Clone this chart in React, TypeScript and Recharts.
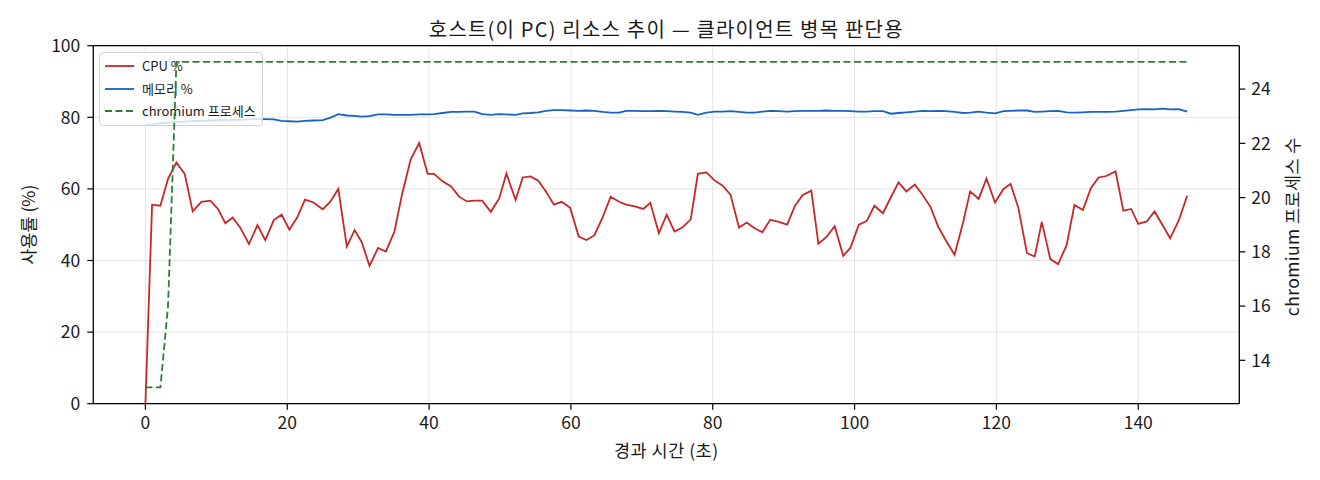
import React from 'react';
import { LineChart, Line, XAxis, YAxis, CartesianGrid, ReferenceLine } from 'recharts';

// elapsed time (s)
const T = [
  0, 0.94, 2.11, 3.19, 4.37, 5.54, 6.67, 7.89, 9.15, 10.23,
  11.27, 12.3, 13.4, 14.6, 15.8, 16.9, 18.1, 19.2, 20.3, 21.4,
  22.5, 23.7, 25.0, 26.1, 27.2, 28.4, 29.5, 30.5, 31.6, 32.8,
  33.9, 35.1, 36.2, 37.4, 38.6, 39.8, 40.7, 41.9, 43.1, 44.2,
  45.3, 46.4, 47.5, 48.7, 49.9, 50.9, 52.2, 53.2, 54.3, 55.4,
  56.5, 57.6, 58.7, 59.9, 61.1, 62.2, 63.3, 64.5, 65.6, 66.8,
  67.8, 69.0, 70.2, 71.2, 72.4, 73.5, 74.6, 75.7, 76.9, 77.9,
  79.1, 80.3, 81.4, 82.5, 83.7, 84.8, 85.9, 87.0, 88.1, 89.3,
  90.5, 91.6, 92.7, 93.9, 94.9, 96.0, 97.2, 98.4, 99.4, 100.6,
  101.7, 102.8, 104.0, 105.1, 106.2, 107.3, 108.5, 109.6, 110.7, 111.8,
  112.9, 114.1, 115.3, 116.3, 117.5, 118.6, 119.8, 121.0, 122.0, 123.1,
  124.3, 125.4, 126.4, 127.6, 128.7, 129.9, 131.0, 132.2, 133.3, 134.4,
  135.5, 136.8, 137.9, 139.0, 140.0, 141.2, 142.3, 143.4, 144.5, 145.7,
  146.9,
];

const CPU = [
  0.0, 55.6, 55.3, 62.8, 67.4, 64.2, 53.7, 56.4, 56.7, 54.4,
  50.4, 52.0, 49.1, 44.6, 49.9, 45.7, 51.3, 52.8, 48.6, 52.0,
  57.0, 56.2, 54.3, 56.5, 60.0, 43.9, 48.5, 45.1, 38.5, 43.5,
  42.5, 48.0, 58.6, 68.2, 72.8, 64.2, 64.2, 62.1, 60.7, 57.9,
  56.5, 56.7, 56.7, 53.6, 57.4, 64.3, 56.9, 63.2, 63.5, 62.3,
  59.2, 55.6, 56.4, 54.7, 46.7, 45.7, 47.0, 52.2, 57.8, 56.4,
  55.6, 55.1, 54.4, 56.1, 47.6, 52.8, 48.1, 49.2, 51.5, 64.2,
  64.6, 62.3, 60.9, 58.4, 49.2, 50.6, 49.0, 47.9, 51.4, 50.8,
  50.0, 55.3, 58.3, 59.5, 44.7, 46.5, 49.6, 41.3, 43.5, 50.0,
  51.0, 55.3, 53.2, 57.6, 61.8, 59.3, 61.2, 58.3, 55.0, 49.4,
  45.5, 41.6, 50.6, 59.3, 57.2, 62.9, 56.2, 60.0, 61.4, 54.7,
  42.1, 41.1, 50.8, 40.4, 39.0, 44.3, 55.5, 54.1, 60.1, 63.2,
  63.6, 64.9, 53.9, 54.4, 50.2, 50.9, 53.7, 50.0, 46.2, 51.1,
  58.1,
];

const MEM = [
  77.8, 78.0, 78.3, 78.5, 78.7, 78.8, 78.9, 79.0, 79.1, 79.2,
  79.2, 79.3, 79.3, 79.4, 79.5, 79.5, 79.4, 79.0, 78.9, 78.8,
  79.0, 79.1, 79.2, 79.9, 80.9, 80.5, 80.4, 80.2, 80.3, 80.8,
  80.8, 80.7, 80.7, 80.7, 80.8, 80.8, 80.9, 81.2, 81.5, 81.5,
  81.6, 81.6, 80.9, 80.7, 80.9, 80.8, 80.7, 81.1, 81.2, 81.4,
  81.8, 82.0, 82.0, 81.9, 81.8, 81.9, 81.8, 81.5, 81.3, 81.3,
  81.8, 81.8, 81.7, 81.7, 81.8, 81.7, 81.6, 81.5, 81.3, 80.7,
  81.3, 81.6, 81.6, 81.7, 81.5, 81.3, 81.3, 81.6, 81.8, 81.7,
  81.6, 81.7, 81.8, 81.8, 81.8, 81.9, 81.8, 81.8, 81.7, 81.6,
  81.6, 81.7, 81.7, 81.0, 81.2, 81.4, 81.6, 81.8, 81.7, 81.8,
  81.7, 81.5, 81.2, 81.3, 81.6, 81.3, 81.1, 81.7, 81.8, 81.9,
  81.9, 81.5, 81.6, 81.7, 81.8, 81.4, 81.3, 81.4, 81.5, 81.5,
  81.5, 81.6, 81.8, 82.0, 82.2, 82.3, 82.2, 82.4, 82.2, 82.3,
  81.6,
];

const PROC = [
  13, 13, 13, 16, 25, 25, 25, 25, 25, 25,
  25, 25, 25, 25, 25, 25, 25, 25, 25, 25,
  25, 25, 25, 25, 25, 25, 25, 25, 25, 25,
  25, 25, 25, 25, 25, 25, 25, 25, 25, 25,
  25, 25, 25, 25, 25, 25, 25, 25, 25, 25,
  25, 25, 25, 25, 25, 25, 25, 25, 25, 25,
  25, 25, 25, 25, 25, 25, 25, 25, 25, 25,
  25, 25, 25, 25, 25, 25, 25, 25, 25, 25,
  25, 25, 25, 25, 25, 25, 25, 25, 25, 25,
  25, 25, 25, 25, 25, 25, 25, 25, 25, 25,
  25, 25, 25, 25, 25, 25, 25, 25, 25, 25,
  25, 25, 25, 25, 25, 25, 25, 25, 25, 25,
  25, 25, 25, 25, 25, 25, 25, 25, 25, 25,
  25,
];

const X_TICKS = [0, 20, 40, 60, 80, 100, 120, 140];
const Y_TICKS = [0, 20, 40, 60, 80, 100];
const Y2_TICKS = [14, 16, 18, 20, 22, 24];

const TITLE = '호스트(이 PC) 리소스 추이 — 클라이언트 병목 판단용';
const X_LABEL = '경과 시간 (초)';
const Y_LABEL = '사용률 (%)';
const Y2_LABEL = 'chromium 프로세스 수';
const LEGEND = [
  { name: 'CPU %', color: '#c62828', dash: undefined as string | undefined },
  { name: '메모리 %', color: '#1565c0', dash: undefined as string | undefined },
  { name: 'chromium 프로세스', color: '#2e7d32', dash: '7 3.5' },
];

const rows = T.map((t, i) => ({ t, cpu: CPU[i], mem: MEM[i], proc: PROC[i] }));

const FONT = '"Noto Sans CJK KR", "Noto Sans", sans-serif';
const W = 1304;
const H = 464;
const X_DOMAIN: [number, number] = [-7.35, 154.25];
const TICK_STYLE = { fontSize: 17.5, fill: '#1a1a1a', fontFamily: FONT };

export default function App() {
  return (
    <div style={{ position: 'relative', width: W, height: H, fontFamily: FONT }}>
      <div style={{ position: 'absolute', left: 0, top: 0 }}>
        <LineChart width={W} height={H} data={rows} margin={{ top: 37.7, right: 72.7, bottom: 18.3, left: 25.3 }}>
          <CartesianGrid stroke="#e4e4e4" strokeWidth={1} />
          <XAxis
            dataKey="t"
            type="number"
            domain={X_DOMAIN}
            ticks={X_TICKS}
            interval={0}
            allowDataOverflow
            height={50}
            tickSize={6}
            tickMargin={7}
            tick={TICK_STYLE}
            axisLine={{ stroke: '#000', strokeWidth: 1.3 }}
            tickLine={{ stroke: '#000', strokeWidth: 1.2 }}
          />
          <YAxis
            domain={[0, 100]}
            ticks={Y_TICKS}
            interval={0}
            width={60}
            tickSize={6}
            tickMargin={7}
            tick={TICK_STYLE}
            axisLine={{ stroke: '#000', strokeWidth: 1.3 }}
            tickLine={{ stroke: '#000', strokeWidth: 1.2 }}
          />
          <ReferenceLine y={100} stroke="#000" strokeWidth={1.3} />
          <Line dataKey="cpu" type="linear" stroke="#c62828" strokeWidth={1.8} dot={false} isAnimationActive={false} />
          <Line dataKey="mem" type="linear" stroke="#1565c0" strokeWidth={1.8} dot={false} isAnimationActive={false} />
        </LineChart>
      </div>

      <div
        style={{
          position: 'absolute',
          left: 91,
          top: 44,
          width: 164,
          height: 74,
          boxSizing: 'border-box',
          border: '1px solid #d4d4d4',
          borderRadius: 4,
          background: 'rgba(255,255,255,0.8)',
        }}
      >
        {LEGEND.map((e, i) => (
          <div key={e.name} style={{ position: 'absolute', left: 0, top: 13 + i * 22.5 - 9, height: 18, width: 162 }}>
            <svg width={34} height={18} style={{ position: 'absolute', left: 4, top: 0 }}>
              <line x1={1} y1={9} x2={30} y2={9} stroke={e.color} strokeWidth={1.8} strokeDasharray={e.dash} />
            </svg>
            <span
              style={{
                position: 'absolute',
                left: 42,
                top: 0,
                lineHeight: '18px',
                fontSize: 13,
                color: '#1a1a1a',
                whiteSpace: 'nowrap',
              }}
            >
              {e.name}
            </span>
          </div>
        ))}
      </div>

      <div style={{ position: 'absolute', left: 0, top: 0, pointerEvents: 'none' }}>
        <LineChart width={W} height={H} data={rows} margin={{ top: 37.7, right: 12.7, bottom: 68.3, left: 85.3 }}>
          <XAxis dataKey="t" type="number" domain={X_DOMAIN} ticks={X_TICKS} allowDataOverflow hide />
          <YAxis
            orientation="right"
            domain={[12.4, 25.6]}
            ticks={Y2_TICKS}
            interval={0}
            allowDataOverflow
            width={60}
            tickSize={6}
            tickMargin={6}
            tick={TICK_STYLE}
            axisLine={{ stroke: '#000', strokeWidth: 1.3 }}
            tickLine={{ stroke: '#000', strokeWidth: 1.2 }}
          />
          <Line
            dataKey="proc"
            type="linear"
            stroke="#2e7d32"
            strokeWidth={1.8}
            strokeDasharray="7 3.5"
            dot={false}
            isAnimationActive={false}
          />
        </LineChart>
      </div>

      <svg width={W} height={H} style={{ position: 'absolute', left: 0, top: 0, pointerEvents: 'none' }}>
        <text
          x={658.3}
          y={20.5}
          textAnchor="middle"
          dominantBaseline="central"
          fontSize={20}
          letterSpacing={1.2}
          fill="#1a1a1a"
          fontFamily={FONT}
        >
          {TITLE}
        </text>
        <text x={658.3} y={441.3} textAnchor="middle" dominantBaseline="central" fontSize={17.5} letterSpacing={0.5} fill="#1a1a1a" fontFamily={FONT}>
          {X_LABEL}
        </text>
        <text
          x={20}
          y={216.7}
          textAnchor="middle"
          dominantBaseline="central"
          fontSize={17.5}
          fill="#1a1a1a"
          fontFamily={FONT}
          transform="rotate(-90 20 216.7)"
        >
          {Y_LABEL}
        </text>
        <text
          x={1283.7}
          y={218.7}
          textAnchor="middle"
          dominantBaseline="central"
          fontSize={17.5}
          letterSpacing={0.4}
          fill="#1a1a1a"
          fontFamily={FONT}
          transform="rotate(-90 1283.7 218.7)"
        >
          {Y2_LABEL}
        </text>
      </svg>
    </div>
  );
}
